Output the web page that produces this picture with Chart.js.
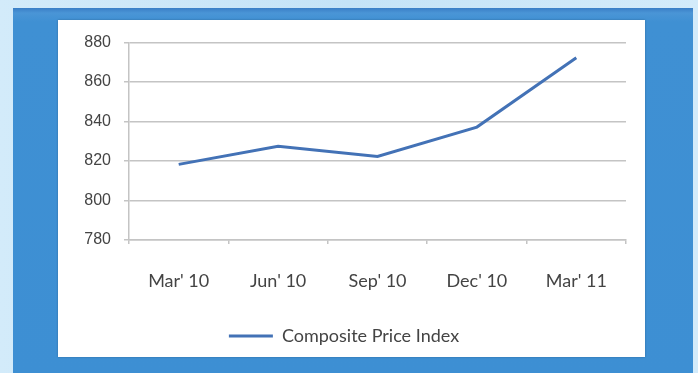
<!DOCTYPE html>
<html>
<head>
<meta charset="utf-8">
<script src="https://cdn.jsdelivr.net/npm/chart.js@4/dist/chart.umd.min.js"></script>
<style>
  html, body { margin: 0; padding: 0; }
  body { width: 698px; height: 373px; overflow: hidden; position: relative;
         background: linear-gradient(to right, #d3ebfa, #c4e3f7 50%, #d3ebfa); }
  #frame { position: absolute; left: 13px; top: 8px; width: 680px; height: 370px;
           background: linear-gradient(to bottom, #3a7ec6 0px, #4a95d6 5px, #3f90d3 14px, #3d8fd3 100%); }
  #panel { position: absolute; left: 58px; top: 20px; width: 587px; height: 337px; background: #fff;
           box-shadow: 0 0 2px rgba(0,0,0,0.25); }
  #panel canvas { display: block; }
</style>
</head>
<body>
<div id="frame"></div>
<div id="panel"><canvas id="c" width="587" height="337"></canvas></div>
<script>
// --- Données ---
const quarters = ["Mar' 10", "Jun' 10", "Sep' 10", "Dec' 10", "Mar' 11"];
const compositeIndex = [818.3, 827.5, 822.3, 837.2, 872.3];
const yTicks = [780, 800, 820, 840, 860, 880];

const LINE = '#4372b6';
const GRID = '#c4c4c4';
const TEXT = '#444444';

new Chart(document.getElementById('c'), {
  type: 'line',
  data: {
    labels: quarters,
    datasets: [{
      label: 'Composite Price Index',
      data: compositeIndex,
      borderColor: LINE,
      backgroundColor: LINE,
      borderWidth: 3,
      pointRadius: 0,
      tension: 0
    }]
  },
  options: {
    responsive: false,
    animation: false,
    layout: { padding: { left: 4, right: 19, top: 14, bottom: 2 } },
    plugins: {
      legend: {
        position: 'bottom',
        labels: {
          usePointStyle: true,
          pointStyle: 'line',
          pointStyleWidth: 44,
          boxHeight: 10,
          padding: 10,
          color: TEXT,
          font: { family: 'Lato', size: 18 }
        }
      },
      tooltip: { enabled: false }
    },
    scales: {
      x: {
        offset: true,
        afterFit: (s) => { s.height = 77; },
        grid: { display: true, drawOnChartArea: false, offset: true, color: GRID, lineWidth: 1.5, tickLength: 4 },
        border: { color: GRID, width: 1.5 },
        ticks: { color: TEXT, padding: 26, font: { family: 'Lato', size: 18 }, maxRotation: 0 }
      },
      y: {
        min: 780, max: 880,
        afterBuildTicks: (s) => { s.ticks = yTicks.map(v => ({ value: v })); },
        afterFit: (s) => { s.width = 67; },
        grid: { color: GRID, lineWidth: 1.5, tickLength: 5 },
        border: { color: GRID, width: 1.5 },
        ticks: { color: TEXT, padding: 13, font: { family: 'Liberation Sans', size: 16 } }
      }
    }
  }
});
</script>
</body>
</html>
